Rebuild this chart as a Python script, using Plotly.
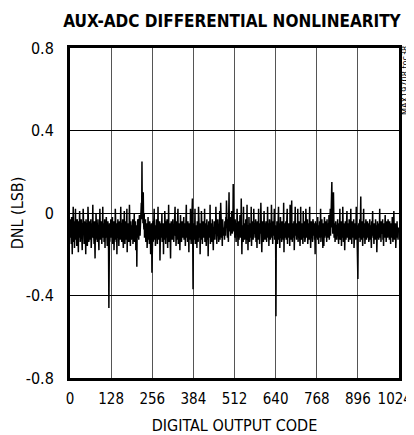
import plotly.graph_objects as go

# DNL readings, in hundredths of an LSB, one row per 32 codes (codes 0..1023)
dnl_hundredths_lsb = [
    -5,-12,-3,-9,-15,-2,-8,-20,-6,-11,3,-9,-14,-4,-17,-7,-10,2,-13,-6,-8,-16,-3,-11,-5,-9,-19,-4,-12,-7,1,-10,
    -14,-6,-9,-3,-12,-8,-18,-5,-10,2,-13,-7,-15,-4,-9,-11,-6,-20,-3,-8,-12,-5,-16,-9,3,-11,-7,-14,-4,-10,-8,-13,
    -6,-3,-17,-9,-11,-5,-8,4,-12,-7,-10,-15,-4,-9,-22,-6,-13,0,-8,-11,-5,-14,-9,-3,-12,-7,-18,-6,-10,2,-9,-13,
    -7,-4,-11,-15,-6,-9,3,-12,-8,-5,-14,-10,-3,-17,-7,-9,-12,-2,-10,-6,-16,-8,-4,-11,-17,-46,-9,-5,-14,-7,-10,-3,
    -8,-12,-5,-9,-2,-15,-7,-11,-4,-18,-10,-6,-13,2,-9,-7,-14,-5,-20,-8,-11,-3,-12,-6,-16,-9,-4,-10,-13,-7,3,-11,
    -5,-14,-8,-10,-3,-12,-17,-6,-9,1,-11,-15,-7,-4,-13,-8,-10,2,-19,-6,-12,-9,-5,-14,-8,4,-11,-7,-16,-4,-10,-13,
    -6,-9,-12,-3,-15,-8,-5,-11,0,-14,-7,-10,-4,-18,-9,-6,-26,-8,-12,-3,-10,-5,-13,-7,-1,-9,-11,-4,2,-6,5,-3,
    25,-2,8,-5,10,-4,-8,0,-12,-6,-9,-3,-14,-7,-11,-5,-17,-8,-10,-2,-13,-6,-9,-15,-4,-11,-7,-20,-8,-12,-5,-29,
    -7,-11,-4,-14,-8,-10,2,-13,-6,-9,-16,-5,-12,-3,-10,-7,-15,-9,3,-11,-6,-13,-8,-4,-23,-10,-5,-12,-7,-9,0,-14,
    -8,-11,-5,-20,-9,-6,-13,1,-10,-7,-15,-4,-12,-8,-3,-11,-17,-6,-9,4,-14,-7,-10,-5,-12,-22,-8,-4,-11,-6,-13,-9,
    -3,-10,-7,-14,-5,-12,-8,3,-11,-6,-16,-9,-4,-13,-7,-10,2,-15,-8,-5,-12,-9,-18,-6,-1,-11,-7,-14,-10,-4,-8,-12,
    -6,-9,-2,-13,-8,-11,-5,-16,-7,-10,4,-12,-6,-9,-14,-4,-11,-8,-19,-5,-10,-7,-13,2,-9,-15,-6,-11,-8,7,-12,-37,
    -9,-5,-13,-7,-10,2,-15,-8,-12,-6,-9,-17,-4,-11,-7,-14,3,-10,-8,-12,-5,-20,-9,-6,-13,1,-11,-7,-15,-8,-4,-10,
    -12,-6,-9,2,-14,-7,-11,-5,-16,-8,-3,-10,-13,-6,-21,-9,-4,-12,-7,-10,4,-15,-8,-5,-11,-9,-14,-3,-10,-6,-18,-7,
    -11,-4,-9,-13,-6,-10,3,-12,-7,-15,-5,-9,-3,-11,-8,-14,-6,-10,1,-13,-7,5,-9,-5,-12,-8,-16,-3,-10,-6,-11,-7,
    -9,-13,-4,-8,-11,-2,-6,6,-10,-5,-12,-3,-8,-14,-1,10,-7,-4,-9,-2,-11,-5,-8,1,-6,-10,-3,-7,14,-4,-9,-6,
    -8,-12,-3,-10,-6,-14,-5,-9,2,-11,-7,-16,-4,-8,-13,-6,-10,-1,-12,-5,-9,7,-3,-20,-8,-11,-6,-14,3,-10,-7,-13,
    -5,-9,-12,-3,-15,-7,-10,4,-13,-8,-18,-6,-11,-2,-9,-14,-5,-10,-7,-12,3,-16,-8,-6,-11,-4,-13,-9,2,-7,-10,-5,
    -12,-8,-3,-14,-6,-10,-17,-4,-9,-7,-13,2,-11,-5,-15,-8,-6,-10,5,-12,-7,-19,-9,-4,-11,-6,-14,-8,1,-10,-5,-13,
    -7,-11,-4,-9,-14,-6,-10,3,-12,-8,-5,-16,-9,-3,-11,-7,-13,-5,-10,4,-8,-12,-6,-15,-4,-9,-11,-7,2,-13,-8,-6,
    -10,-50,-7,-12,-4,-9,-15,-6,-11,3,-13,-8,-5,-17,-10,-2,-12,-7,-9,-14,-4,-11,-8,-6,-13,5,-19,-9,-5,-12,-7,-10,
    -4,-13,-8,-11,2,-15,-6,-9,-12,-5,-10,-7,-16,4,-11,-8,-13,-6,6,-10,-14,-5,-9,-7,-12,-4,-18,-8,-10,3,-11,-6,
    -9,-13,-5,-8,-11,2,-14,-7,-10,-4,-12,-6,-16,-9,3,-11,-8,-13,-5,-10,-7,-15,1,-12,-6,-9,-4,-14,-8,-11,2,-10,
    -6,-12,-8,-3,-15,-7,-10,-5,-13,-9,3,-11,-6,-17,-8,-4,-12,-7,-10,-14,-3,-9,-6,-11,-5,-13,-8,-20,-4,-10,-7,-12,
    -5,-9,-13,-2,-11,-7,-15,-6,-10,-4,-12,-8,2,-14,-6,-9,-3,-11,-7,-17,-5,-10,-16,-8,-2,-12,-6,-9,-4,-11,-8,-14,
    -3,-10,-7,-12,-5,-9,-1,-13,-8,-6,2,-11,-4,-9,5,15,-7,-3,-10,-6,10,-2,-12,-8,-5,-14,-9,-4,-11,-7,-13,-6,
    -10,-3,-12,-8,-15,-5,-9,-11,2,-13,-7,-10,-4,-16,-8,-6,-12,3,-9,-14,-5,-11,-7,-18,-10,-4,-8,-13,-6,-9,1,-12,
    -7,-11,-5,-14,-9,-3,-10,-6,-13,-8,2,-12,-7,-15,-4,-10,-9,-6,-12,-3,-17,-8,-11,-5,-9,-13,-7,3,-10,-6,-14,-8,
    -32,-9,-5,-12,-7,-10,-3,-14,-8,8,-11,-6,-13,-4,-9,-16,-7,-10,2,-12,-5,-8,-15,-6,-11,-3,-9,-13,-7,-10,-4,-12,
    -8,-5,-14,-9,-11,-3,-7,-13,-6,-10,-17,-4,-12,-8,1,-11,-6,-9,-15,-5,-10,-7,-13,-3,-9,-12,-6,-19,-8,-4,-11,-7,
    -10,-13,-5,-8,2,-12,-7,-9,-14,-4,-11,-6,-10,-3,-13,-8,-16,-5,-9,-12,-7,-1,-11,-6,-14,-8,-4,-10,-7,-12,-3,-9,
    -11,-6,-13,-4,-9,-8,-15,-5,-10,-7,-12,-2,-9,-14,-6,-11,1,-8,-13,-7,-10,-5,-17,-9,-6,-12,-4,-10,-8,-13,-7,-9,
]

codes = list(range(len(dnl_hundredths_lsb)))
dnl_lsb = [v / 100.0 for v in dnl_hundredths_lsb]

x_ticks = [0, 128, 256, 384, 512, 640, 768, 896, 1024]
# the last label sits slightly left of its tick in the original (kept inside the page)
x_tick_text = ["0", "128", "256", "384", "512", "640", "768", "896", "1024\u00a0\u00a0"]
y_ticks = [-0.8, -0.4, 0, 0.4, 0.8]
y_tick_text = ["-0.8", "-0.4", "0", "0.4", "0.8"]

FONT = "DejaVu Sans Condensed, Liberation Sans Narrow, Roboto, sans-serif"

fig = go.Figure()
fig.add_trace(go.Scatter(
    x=codes, y=dnl_lsb, mode="lines",
    line=dict(color="black", width=1.5),
    showlegend=False, hoverinfo="skip",
))

fig.update_layout(
    width=414, height=427,
    margin=dict(l=62, r=23, t=40, b=57, autoexpand=False),
    paper_bgcolor="white", plot_bgcolor="white",
    font=dict(family=FONT, size=16, color="black"),
    title=dict(
        text="<b>AUX-ADC DIFFERENTIAL NONLINEARITY</b>",
        x=0.541, xanchor="center", y=0.97, yanchor="middle",
        font=dict(family=FONT, size=17, color="black"),
    ),
)

fig.update_xaxes(
    range=[0, 1024], tickvals=x_ticks, ticktext=x_tick_text,
    tickfont=dict(size=15),
    showgrid=True, gridcolor="#555555", gridwidth=1,
    showline=True, linecolor="black", linewidth=3, mirror=True,
    ticks="", zeroline=False, automargin=False, ticklabelstandoff=5,
    ticklabeloverflow="allow",
    title=dict(text="DIGITAL OUTPUT CODE", standoff=18, font=dict(size=16)),
)
fig.update_yaxes(
    range=[-0.8, 0.8], tickvals=y_ticks, ticktext=y_tick_text,
    showgrid=True, gridcolor="black", gridwidth=1,
    showline=True, linecolor="black", linewidth=3, mirror=True,
    ticks="", zeroline=False, ticklabelstandoff=10, automargin=False,
    title=dict(text="DNL (LSB)", standoff=4, font=dict(size=16)),
)

fig.add_annotation(
    text="MAX19708 toc38", textangle=-90,
    xref="paper", yref="paper", x=1.0, y=1.0, xanchor="center", yanchor="middle",
    xshift=6, yshift=-33, showarrow=False,
    font=dict(family=FONT, size=9, color="black"),
)

fig.write_html("out.html")
